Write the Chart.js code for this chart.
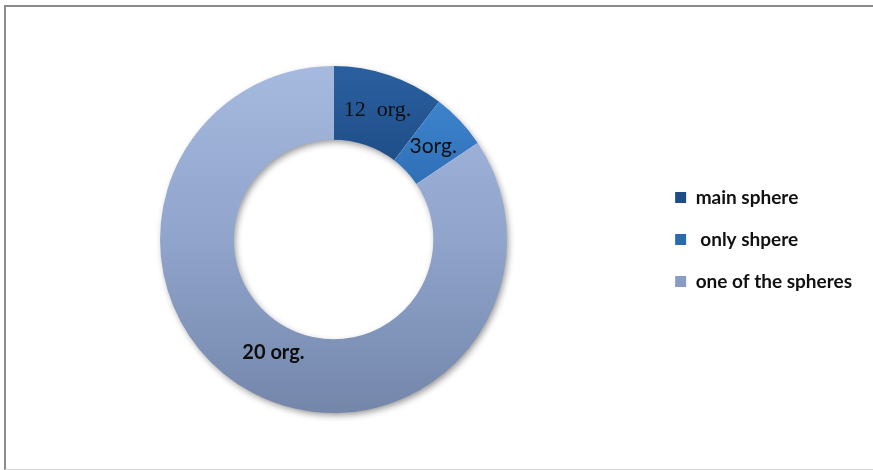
<!DOCTYPE html>
<html><head><meta charset="utf-8">
<script src="https://cdn.jsdelivr.net/npm/chart.js@4/dist/chart.umd.min.js"></script>
<style>
html,body{margin:0;padding:0;background:#fff;}
#wrap{position:absolute;left:0;top:0;width:873px;height:470px;overflow:hidden;}
#frame{position:absolute;left:4px;top:5px;width:869px;height:465px;border-top:2px solid #8c8c8c;border-left:2px solid #8c8c8c;border-bottom:1px solid #d4d4d4;box-sizing:border-box;pointer-events:none;}
canvas{position:absolute;left:0;top:0;}
</style></head>
<body><div id="wrap"><canvas id="c" width="873" height="470"></canvas><div id="frame"></div></div>
<script>
const categories = ['main sphere', ' only shpere', 'one of the spheres'];
const values = [10.4, 5.2, 84.4];
const sliceLabels = ['12  org.', '3org.', '20 org.'];
const sliceFonts = ['normal 22px "Liberation Serif"', 'normal 21px Lato', 'bold 20px Lato'];
const labelRadiusFrac = [0.5, 0.5, 0.38];
const gradStops = [
  [[0, '#2B60A0'], [0.3, '#1E4C86'], [1, '#1E4C86']],
  [[0, '#3F88D2'], [0.15, '#3A80C9'], [0.4, '#2C6AB0'], [1, '#2C6AB0']],
  [[0, '#A6BADF'], [0.5, '#90A4CC'], [1, '#7486AA']]
];

function sliceColor(ctx) {
  const chart = ctx.chart;
  const area = chart.chartArea;
  if (!area) return '#888';
  const meta = chart.getDatasetMeta(0);
  const el = meta.data[0];
  let top = area.top, bottom = area.bottom;
  if (el && el.outerRadius) { top = el.y - el.outerRadius; bottom = el.y + el.outerRadius; }
  const g = chart.ctx.createLinearGradient(0, top, 0, bottom);
  gradStops[ctx.dataIndex].forEach(s => g.addColorStop(s[0], s[1]));
  return g;
}

const shadowPlugin = {
  id: 'ringShadow',
  beforeDatasetsDraw(chart) {
    const el = chart.getDatasetMeta(0).data[0];
    if (!el) return;
    const c = chart.ctx;
    c.save();
    c.shadowColor = 'rgba(0,0,0,0.45)';
    c.shadowBlur = 7;
    c.shadowOffsetX = 2;
    c.shadowOffsetY = 3;
    c.fillStyle = '#fff';
    c.beginPath();
    c.arc(el.x, el.y, el.outerRadius - 1, 0, Math.PI * 2, false);
    c.arc(el.x, el.y, el.innerRadius + 1, 0, Math.PI * 2, true);
    c.closePath();
    c.fill();
    c.restore();
  }
};

const labelPlugin = {
  id: 'sliceLabels',
  afterDatasetsDraw(chart) {
    const c = chart.ctx;
    const meta = chart.getDatasetMeta(0);
    meta.data.forEach((el, i) => {
      const mid = (el.startAngle + el.endAngle) / 2;
      const r = el.innerRadius + (el.outerRadius - el.innerRadius) * labelRadiusFrac[i];
      const x = el.x + Math.cos(mid) * r;
      const y = el.y + Math.sin(mid) * r;
      c.save();
      c.font = sliceFonts[i];
      c.fillStyle = '#0d0d0d';
      c.textAlign = 'center';
      c.textBaseline = 'middle';
      c.fillText(sliceLabels[i], x, y);
      c.restore();
    });
  }
};

new Chart(document.getElementById('c'), {
  type: 'doughnut',
  data: {
    labels: categories,
    datasets: [{
      data: values,
      backgroundColor: sliceColor,
      borderWidth: 0,
      hoverOffset: 0
    }]
  },
  options: {
    responsive: false,
    animation: false,
    cutout: '57.5%',
    layout: { padding: { top: 66, bottom: 57, left: 15, right: 11 } },
    plugins: {
      tooltip: { enabled: false },
      legend: {
        position: 'right',
        labels: {
          boxWidth: 11,
          boxHeight: 11,
          padding: 23,
          color: '#111',
          font: { family: 'Lato', size: 19, weight: 'bold' }
        }
      }
    }
  },
  plugins: [shadowPlugin, labelPlugin]
});
</script>
</body></html>
